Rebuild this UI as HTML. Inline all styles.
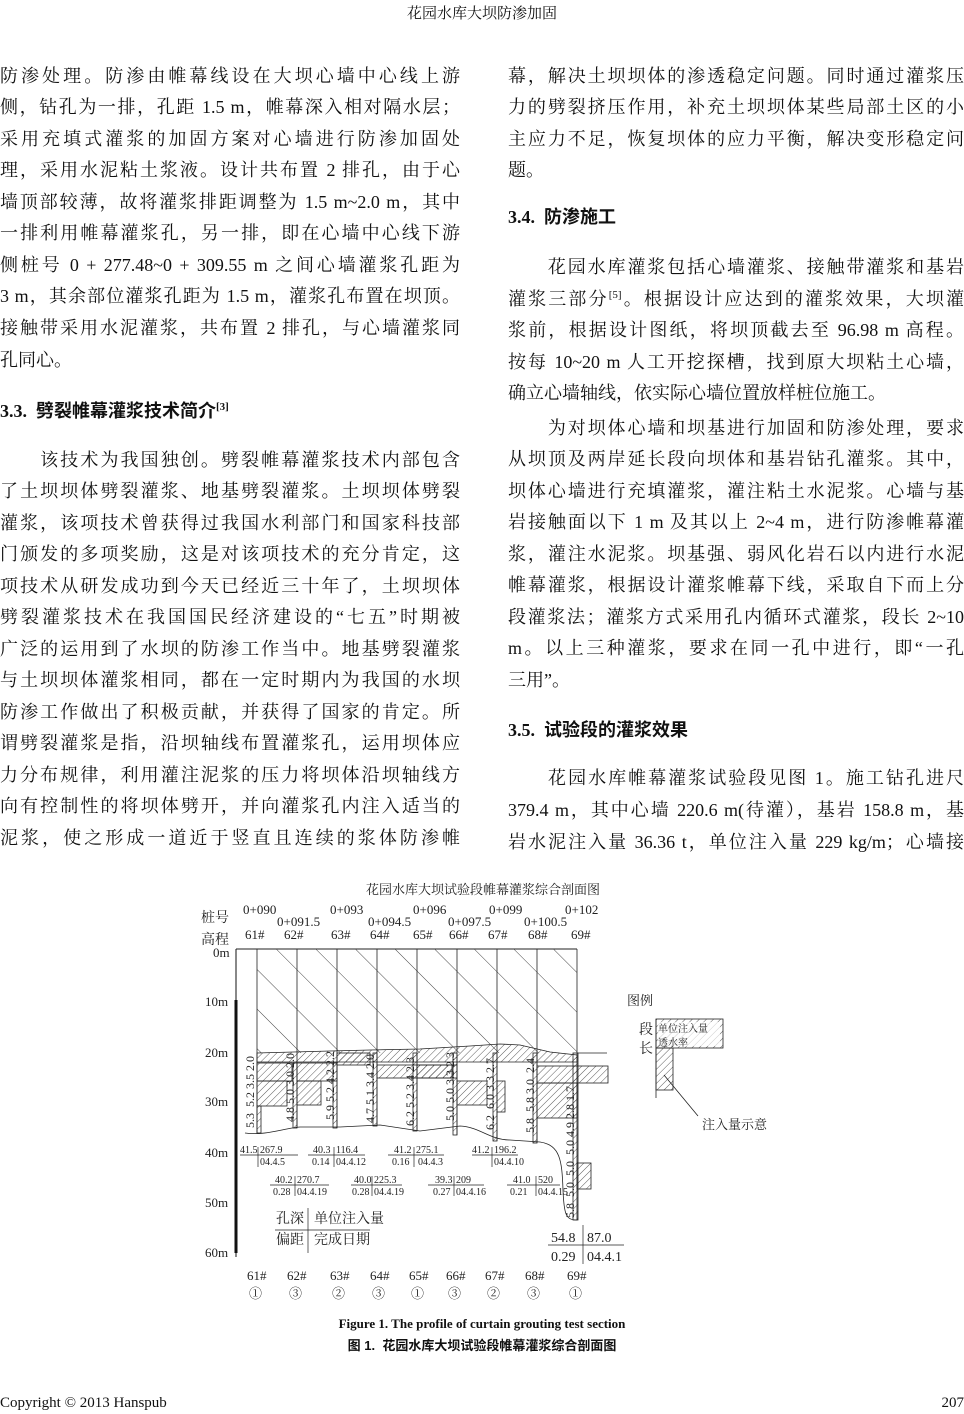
<!DOCTYPE html>
<html><head><meta charset="utf-8"><style>
body{margin:0;background:#fff;}
#p{position:relative;width:964px;height:1414px;overflow:hidden;font-family:"Liberation Serif","Noto Serif CJK SC",serif;color:#111;}
.l{position:absolute;height:24px;line-height:24px;font-size:18px;white-space:nowrap;text-align:justify;text-align-last:justify;}
.L{left:0;width:460px}.R{left:508px;width:456px}
.n{text-align-last:left}
.h{position:absolute;font-size:18px;font-weight:bold;font-family:"Liberation Serif","Noto Sans CJK SC",sans-serif;line-height:24px;}
sup{font-size:11px;line-height:0;vertical-align:0;position:relative;top:-7px}
svg text{font-family:"Liberation Serif","Noto Serif CJK SC",serif;fill:#222}
</style></head><body><div id="p">
<div style="position:absolute;top:2px;left:0;width:964px;text-align:center;font-size:15px;">花园水库大坝防渗加固</div>

<div class="l L" style="top:64px">防渗处理。防渗由帷幕线设在大坝心墙中心线上游</div>
<div class="l L" style="top:95px">侧，钻孔为一排，孔距 1.5 m，帷幕深入相对隔水层；</div>
<div class="l L" style="top:127px">采用充填式灌浆的加固方案对心墙进行防渗加固处</div>
<div class="l L" style="top:158px">理，采用水泥粘土浆液。设计共布置 2 排孔，由于心</div>
<div class="l L" style="top:190px">墙顶部较薄，故将灌浆排距调整为 1.5 m~2.0 m，其中</div>
<div class="l L" style="top:221px">一排利用帷幕灌浆孔，另一排，即在心墙中心线下游</div>
<div class="l L" style="top:253px">侧桩号 0 + 277.48~0 + 309.55 m 之间心墙灌浆孔距为</div>
<div class="l L" style="top:284px">3 m，其余部位灌浆孔距为 1.5 m，灌浆孔布置在坝顶。</div>
<div class="l L" style="top:316px">接触带采用水泥灌浆，共布置 2 排孔，与心墙灌浆同</div>
<div class="l L n" style="top:348px">孔同心。</div>
<div class="h" style="top:399px;left:0">3.3.&nbsp; 劈裂帷幕灌浆技术简介<sup>[3]</sup></div>
<div class="l L" style="top:448px">　　该技术为我国独创。劈裂帷幕灌浆技术内部包含</div>
<div class="l L" style="top:479px">了土坝坝体劈裂灌浆、地基劈裂灌浆。土坝坝体劈裂</div>
<div class="l L" style="top:511px">灌浆，该项技术曾获得过我国水利部门和国家科技部</div>
<div class="l L" style="top:542px">门颁发的多项奖励，这是对该项技术的充分肯定，这</div>
<div class="l L" style="top:574px">项技术从研发成功到今天已经近三十年了，土坝坝体</div>
<div class="l L" style="top:605px">劈裂灌浆技术在我国国民经济建设的“七五”时期被</div>
<div class="l L" style="top:637px">广泛的运用到了水坝的防渗工作当中。地基劈裂灌浆</div>
<div class="l L" style="top:668px">与土坝坝体灌浆相同，都在一定时期内为我国的水坝</div>
<div class="l L" style="top:700px">防渗工作做出了积极贡献，并获得了国家的肯定。所</div>
<div class="l L" style="top:731px">谓劈裂灌浆是指，沿坝轴线布置灌浆孔，运用坝体应</div>
<div class="l L" style="top:763px">力分布规律，利用灌注泥浆的压力将坝体沿坝轴线方</div>
<div class="l L" style="top:794px">向有控制性的将坝体劈开，并向灌浆孔内注入适当的</div>
<div class="l L" style="top:826px">泥浆，使之形成一道近于竖直且连续的浆体防渗帷</div>

<div class="l R" style="top:64px">幕，解决土坝坝体的渗透稳定问题。同时通过灌浆压</div>
<div class="l R" style="top:95px">力的劈裂挤压作用，补充土坝坝体某些局部土区的小</div>
<div class="l R" style="top:127px">主应力不足，恢复坝体的应力平衡，解决变形稳定问</div>
<div class="l R n" style="top:158px">题。</div>
<div class="h" style="top:205px;left:508px">3.4.&nbsp; 防渗施工</div>
<div class="l R" style="top:255px">　　花园水库灌浆包括心墙灌浆、接触带灌浆和基岩</div>
<div class="l R" style="top:287px">灌浆三部分<sup>[5]</sup>。根据设计应达到的灌浆效果，大坝灌</div>
<div class="l R" style="top:318px">浆前，根据设计图纸，将坝顶截去至 96.98 m 高程。</div>
<div class="l R" style="top:350px">按每 10~20 m 人工开挖探槽，找到原大坝粘土心墙，</div>
<div class="l R n" style="top:381px">确立心墙轴线，依实际心墙位置放样桩位施工。</div>
<div class="l R" style="top:416px">　　为对坝体心墙和坝基进行加固和防渗处理，要求</div>
<div class="l R" style="top:447px">从坝顶及两岸延长段向坝体和基岩钻孔灌浆。其中，</div>
<div class="l R" style="top:479px">坝体心墙进行充填灌浆，灌注粘土水泥浆。心墙与基</div>
<div class="l R" style="top:510px">岩接触面以下 1 m 及其以上 2~4 m，进行防渗帷幕灌</div>
<div class="l R" style="top:542px">浆，灌注水泥浆。坝基强、弱风化岩石以内进行水泥</div>
<div class="l R" style="top:573px">帷幕灌浆，根据设计灌浆帷幕下线，采取自下而上分</div>
<div class="l R" style="top:605px">段灌浆法；灌浆方式采用孔内循环式灌浆，段长 2~10</div>
<div class="l R" style="top:636px">m。以上三种灌浆，要求在同一孔中进行，即“一孔</div>
<div class="l R n" style="top:668px">三用”。</div>
<div class="h" style="top:718px;left:508px">3.5.&nbsp; 试验段的灌浆效果</div>
<div class="l R" style="top:766px">　　花园水库帷幕灌浆试验段见图 1。施工钻孔进尺</div>
<div class="l R" style="top:798px">379.4 m，其中心墙 220.6 m(待灌），基岩 158.8 m，基</div>
<div class="l R" style="top:830px">岩水泥注入量 36.36 t，单位注入量 229 kg/m；心墙接</div>

<svg style="position:absolute;left:0;top:0" width="964" height="1414">
<defs>
<pattern id="bk" width="28" height="28" patternUnits="userSpaceOnUse" patternTransform="rotate(-45)"><line x1="0" y1="0" x2="0" y2="28" stroke="#333" stroke-width="0.9"/></pattern>
<pattern id="fw" width="5" height="5" patternUnits="userSpaceOnUse" patternTransform="rotate(45)"><line x1="0" y1="0" x2="0" y2="5" stroke="#333" stroke-width="0.8"/></pattern>
</defs>
<g font-size="13">
<text x="366" y="894" font-size="13">花园水库大坝试验段帷幕灌浆综合剖面图</text>
<text x="243" y="914">0+090</text><text x="330" y="914">0+093</text><text x="413" y="914">0+096</text><text x="489" y="914">0+099</text><text x="565" y="914">0+102</text>
<text x="277" y="926">0+091.5</text><text x="368" y="926">0+094.5</text><text x="448" y="926">0+097.5</text><text x="524" y="926">0+100.5</text>
<text x="245" y="939">61#</text><text x="284" y="939">62#</text><text x="331" y="939">63#</text><text x="370" y="939">64#</text><text x="413" y="939">65#</text><text x="449" y="939">66#</text><text x="488" y="939">67#</text><text x="528" y="939">68#</text><text x="571" y="939">69#</text>
<text x="201" y="922" font-size="14">桩号</text><text x="201" y="944" font-size="14">高程</text>
<text x="213" y="957">0m</text><text x="205" y="1006">10m</text><text x="205" y="1057">20m</text><text x="205" y="1106">30m</text><text x="205" y="1157">40m</text><text x="205" y="1207">50m</text><text x="205" y="1257">60m</text>
</g>
<line x1="236" y1="949" x2="236" y2="1257" stroke="#111" stroke-width="1"/>
<line x1="236" y1="1000" x2="236" y2="1253" stroke="#111" stroke-width="3"/>
<line x1="236" y1="949" x2="577" y2="949" stroke="#222"/>
<rect x="257" y="949" width="320" height="104" fill="url(#bk)"/>
<path d="M257 1053 L330 1051 L370 1050 L420 1049 L470 1046 L500 1044 L520 1045 L550 1052 L577 1055 L577 1062 L257 1062Z" fill="url(#fw)" stroke="#222" stroke-width="0.8"/>
<g stroke="#222" stroke-width="0.8" fill="url(#fw)">
<rect x="257" y="1063" width="35" height="18"/><rect x="257" y="1081" width="30" height="25"/>
<rect x="297" y="1063" width="40" height="18"/><rect x="297" y="1081" width="24" height="24"/>
<rect x="337" y="1053" width="33" height="12"/>
<rect x="377" y="1065" width="75" height="13"/><rect x="417" y="1065" width="40" height="13"/>
<rect x="457" y="1081" width="30" height="24"/>
<rect x="497" y="1081" width="8" height="31"/>
<rect x="537" y="1066" width="71" height="17"/><rect x="537" y="1083" width="40" height="35"/>
<rect x="577" y="1163" width="14" height="26"/>
<rect x="257" y="1106" width="4" height="27"/><rect x="293" y="1063" width="4" height="65"/><rect x="333" y="1063" width="4" height="65"/><rect x="373" y="1053" width="4" height="73"/><rect x="413" y="1053" width="4" height="78"/><rect x="453" y="1053" width="4" height="82"/><rect x="493" y="1053" width="4" height="88"/><rect x="533" y="1053" width="4" height="90"/><rect x="573" y="1053" width="5" height="167"/>
</g>
<g stroke="#222" stroke-width="0.8">
<line x1="257" y1="949" x2="257" y2="1133"/><line x1="297" y1="949" x2="297" y2="1128"/><line x1="337" y1="949" x2="337" y2="1128"/><line x1="377" y1="949" x2="377" y2="1126"/><line x1="417" y1="949" x2="417" y2="1131"/><line x1="457" y1="949" x2="457" y2="1135"/><line x1="497" y1="949" x2="497" y2="1141"/><line x1="537" y1="949" x2="537" y2="1143"/><line x1="577" y1="949" x2="577" y2="1220"/>
<line x1="577" y1="1053" x2="607" y2="1053"/>
<path d="M245 1133 C265 1136 285 1128 300 1127 L340 1127 L380 1125 L420 1131 L460 1126 C480 1127 490 1140 510 1140 L540 1142 C560 1145 562 1160 563 1190 C564 1215 566 1220 577 1220" fill="none"/>
</g>
<g font-size="12">
<text transform="translate(254,1128) rotate(-90)">5.3 &nbsp;5.2 3.5 2.0</text>
<text transform="translate(294,1122) rotate(-90)">4.8 5.0 3.0 2.0</text>
<text transform="translate(334,1120) rotate(-90)">5.9 5.2 4.2 2.2</text>
<text transform="translate(374,1123) rotate(-90)">4.7 5.1 3.4 2.0</text>
<text transform="translate(414,1126) rotate(-90)">6.2 5.2 3.4 2.3</text>
<text transform="translate(454,1121) rotate(-90)">5.0 5.0 3.3 2.3</text>
<text transform="translate(494,1130) rotate(-90)">6.2 &nbsp;6.0 3.3 2.7</text>
<text transform="translate(534,1133) rotate(-90)">5.8 &nbsp;5.8 3.0 &nbsp;2.4</text>
<text transform="translate(574,1218) rotate(-90)">5.8 &nbsp;5.0 &nbsp;5.0 &nbsp;5.0 4.9 2.8 1.7</text>
</g>
<g font-size="9" stroke="#222" stroke-width="0.7">
<line x1="240" y1="1155" x2="298" y2="1155"/><line x1="258" y1="1147" x2="258" y2="1167"/>
<line x1="308" y1="1155" x2="365" y2="1155"/><line x1="334" y1="1147" x2="334" y2="1167"/>
<line x1="388" y1="1155" x2="444" y2="1155"/><line x1="414" y1="1147" x2="414" y2="1167"/>
<line x1="472" y1="1155" x2="518" y2="1155"/><line x1="492" y1="1147" x2="492" y2="1167"/>
<line x1="270" y1="1185" x2="329" y2="1185"/><line x1="295" y1="1176" x2="295" y2="1196"/>
<line x1="351" y1="1185" x2="402" y2="1185"/><line x1="372" y1="1176" x2="372" y2="1196"/>
<line x1="428" y1="1185" x2="484" y2="1185"/><line x1="454" y1="1176" x2="454" y2="1196"/>
<line x1="507" y1="1185" x2="560" y2="1185"/><line x1="536" y1="1176" x2="536" y2="1196"/>
<line x1="275" y1="1230" x2="370" y2="1230"/><line x1="308" y1="1208" x2="308" y2="1253"/>
<line x1="548" y1="1245" x2="624" y2="1245"/><line x1="583" y1="1225" x2="583" y2="1264"/>
</g>
<g font-size="10">
<text x="240" y="1153">41.5</text><text x="260" y="1153">267.9</text><text x="260" y="1165">04.4.5</text>
<text x="313" y="1153">40.3</text><text x="336" y="1153">116.4</text><text x="312" y="1165">0.14</text><text x="336" y="1165">04.4.12</text>
<text x="394" y="1153">41.2</text><text x="416" y="1153">275.1</text><text x="392" y="1165">0.16</text><text x="418" y="1165">04.4.3</text>
<text x="472" y="1153">41.2</text><text x="494" y="1153">196.2</text><text x="494" y="1165">04.4.10</text>
<text x="275" y="1183">40.2</text><text x="297" y="1183">270.7</text><text x="273" y="1195">0.28</text><text x="297" y="1195">04.4.19</text>
<text x="354" y="1183">40.0</text><text x="374" y="1183">225.3</text><text x="352" y="1195">0.28</text><text x="374" y="1195">04.4.19</text>
<text x="435" y="1183">39.3</text><text x="456" y="1183">209</text><text x="433" y="1195">0.27</text><text x="456" y="1195">04.4.16</text>
<text x="513" y="1183">41.0</text><text x="538" y="1183">520</text><text x="510" y="1195">0.21</text><text x="538" y="1195">04.4.15</text>
</g>
<g font-size="14">
<text x="276" y="1223">孔深</text><text x="314" y="1223">单位注入量</text>
<text x="276" y="1244">偏距</text><text x="314" y="1244">完成日期</text>
<text x="551" y="1242">54.8</text><text x="587" y="1242">87.0</text>
<text x="551" y="1261">0.29</text><text x="587" y="1261">04.4.1</text>
</g>
<g font-size="13">
<text x="247" y="1280">61#</text><text x="287" y="1280">62#</text><text x="330" y="1280">63#</text><text x="370" y="1280">64#</text><text x="409" y="1280">65#</text><text x="446" y="1280">66#</text><text x="485" y="1280">67#</text><text x="525" y="1280">68#</text><text x="567" y="1280">69#</text>
<text x="249" y="1298">①</text><text x="289" y="1298">③</text><text x="332" y="1298">②</text><text x="372" y="1298">③</text><text x="411" y="1298">①</text><text x="448" y="1298">③</text><text x="487" y="1298">②</text><text x="527" y="1298">③</text><text x="569" y="1298">①</text>
</g>
<text x="627" y="1005" font-size="13">图例</text>
<g stroke="#222" stroke-width="0.8">
<rect x="656" y="1019" width="67" height="29" fill="url(#fw)"/>
<rect x="656" y="1048" width="17" height="42" fill="url(#fw)"/>
<line x1="656" y1="1019" x2="656" y2="1098"/>
<line x1="664" y1="1075" x2="698" y2="1116"/>
</g>
<rect x="658" y="1022" width="62" height="24" fill="#fff" opacity="0.7"/>
<text x="639" y="1034" font-size="14">段</text><text x="639" y="1053" font-size="14">长</text>
<text x="658" y="1032" font-size="10">单位注入量</text><text x="658" y="1046" font-size="10">透水率</text>
<text x="702" y="1129" font-size="13">注入量示意</text>
</svg>

<div style="position:absolute;top:1316px;left:0;width:964px;text-align:center;font:bold 13px 'Liberation Serif',serif;">Figure 1. The profile of curtain grouting test section</div>
<div style="position:absolute;top:1335px;left:0;width:964px;text-align:center;font:bold 13px 'Liberation Sans','Noto Sans CJK SC',sans-serif;">图 1. &nbsp;花园水库大坝试验段帷幕灌浆综合剖面图</div>
<div style="position:absolute;top:1395px;left:0;font-size:15px;">Copyright © 2013 Hanspub</div>
<div style="position:absolute;top:1395px;right:0;font-size:15px;">207</div>
</div></body></html>
